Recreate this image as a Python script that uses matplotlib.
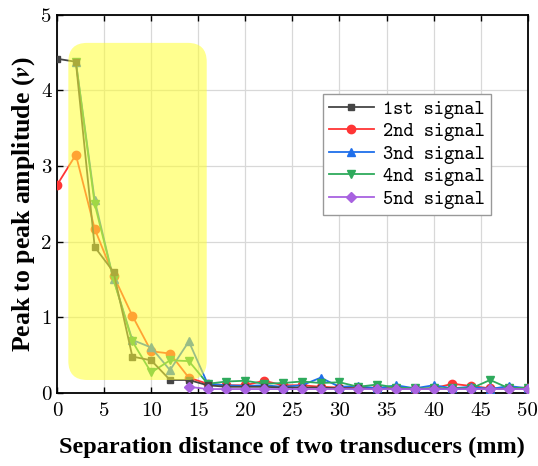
import matplotlib
matplotlib.use('Agg')
import matplotlib.pyplot as plt
from matplotlib.patches import FancyBboxPatch
from matplotlib.ticker import MultipleLocator

plt.rcParams['mathtext.fontset'] = 'stix'

# ── data (mm, amplitude) ──
distance = list(range(0, 52, 2))
sig1 = [4.42, 4.38, 1.93, 1.60, 0.48, 0.43, 0.17, 0.17, 0.10, 0.08, 0.08, 0.08, 0.07,
        0.07, 0.07, 0.06, 0.06, 0.05, 0.05, 0.05, 0.05, 0.05, 0.05, 0.05, 0.05, 0.05]
sig2 = [2.75, 3.15, 2.17, 1.55, 1.02, 0.55, 0.52, 0.20, 0.12, 0.10, 0.10, 0.16, 0.10,
        0.10, 0.08, 0.07, 0.06, 0.07, 0.06, 0.05, 0.06, 0.12, 0.09, 0.06, 0.06, 0.06]
sig3 = [None, 4.38, 2.55, 1.50, 0.70, 0.60, 0.30, 0.68, 0.12, 0.10, 0.09, 0.10, 0.08,
        0.10, 0.20, 0.08, 0.09, 0.06, 0.10, 0.06, 0.10, 0.06, 0.08, 0.05, 0.09, 0.06]
sig4 = [None, 4.38, 2.50, 1.50, 0.68, 0.27, 0.43, 0.42, 0.12, 0.15, 0.16, 0.12, 0.13,
        0.15, 0.13, 0.14, 0.08, 0.11, 0.07, 0.06, 0.06, 0.06, 0.06, 0.17, 0.06, 0.07]
sig5 = [None] * 7 + [0.08, 0.05, 0.05, 0.05, 0.05, 0.05, 0.05, 0.05, 0.05, 0.05,
                     0.05, 0.05, 0.05, 0.05, 0.05, 0.05, 0.05, 0.05, 0.05]
labels = ['1st signal', '2nd signal', '3nd signal', '4nd signal', '5nd signal']

colors = ['#454545', '#FF3535', '#1F6FEB', '#2EAA5C', '#A862E0']
markers = ['s', 'o', '^', 'v', 'D']
msizes = [5, 6, 6, 6, 5]
zorders = [3.4, 3.1, 3.2, 3.3, 3.5]

fig = plt.figure(figsize=(5.38, 4.66), dpi=100)
ax = fig.add_axes([0.106, 0.157, 0.875, 0.811])

for ys, c, m, ms, z, lab in zip([sig1, sig2, sig3, sig4, sig5], colors, markers,
                                msizes, zorders, labels):
    xs = [x for x, y in zip(distance, ys) if y is not None]
    yv = [y for y in ys if y is not None]
    ax.plot(xs, yv, color=c, marker=m, markersize=ms, lw=1.3, label=lab, zorder=z)

# yellow highlight over the near-field region
hl = FancyBboxPatch((1.2, 0.17), 14.7, 4.46, boxstyle='round,pad=0,rounding_size=2.0',
                    mutation_aspect=0.125, facecolor='#FFFF33', edgecolor='none',
                    alpha=0.55, zorder=4)
ax.add_patch(hl)

ax.set_xlim(0, 50)
ax.set_ylim(0, 5)
ax.xaxis.set_major_locator(MultipleLocator(5))
ax.yaxis.set_major_locator(MultipleLocator(1))
ax.grid(True, color='#D8D8D8', lw=0.9, zorder=0)
ax.set_axisbelow(True)
ax.tick_params(direction='in', top=True, right=False, length=4, width=1,
               labelsize=15)
ax.tick_params(axis='x', pad=7)
ax.tick_params(axis='y', pad=4)
for lab in ax.get_xticklabels() + ax.get_yticklabels():
    lab.set_family('cmr10')
for s in ax.spines.values():
    s.set_linewidth(1.3)

ax.set_xlabel('Separation distance of two transducers (mm)', fontsize=17.5,
              fontweight='bold', family='Liberation Serif', labelpad=12)
ax.set_ylabel('Peak to peak amplitude ($\\boldsymbol{v}$)', fontsize=18.5,
              fontweight='bold', family='Liberation Serif', labelpad=3)

leg = ax.legend(loc='upper left', bbox_to_anchor=(0.565, 0.79), fancybox=False,
                edgecolor='#999999', framealpha=1, handlelength=2.3,
                prop={'family': 'cmtt10', 'size': 14}, borderaxespad=0,
                labelspacing=0.2, borderpad=0.3, handletextpad=0.5)
leg.get_frame().set_linewidth(1)

fig.savefig('out.png', dpi=100)
